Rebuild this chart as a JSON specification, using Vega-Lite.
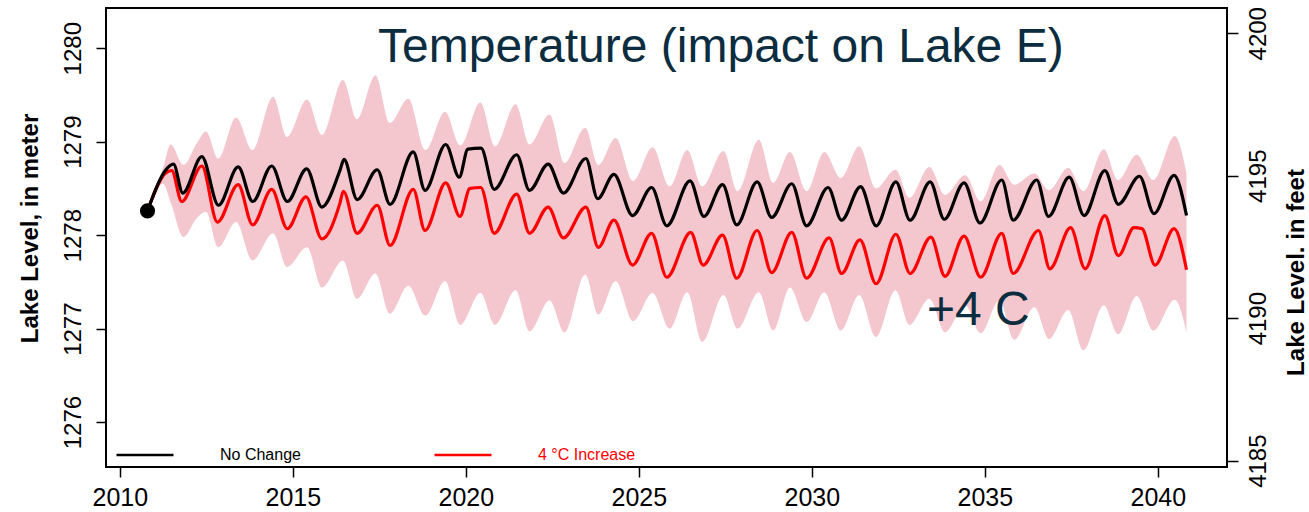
{
  "$schema": "https://vega.github.io/schema/vega-lite/v6.json",
  "width": 1121,
  "height": 459,
  "autosize": {"type": "none"},
  "padding": {"left": 106, "top": 8, "right": 82, "bottom": 45},
  "background": "white",
  "config": {
    "view": {"stroke": "black", "strokeWidth": 2},
    "font": "Liberation Sans",
    "axis": {"domain": false, "grid": false, "tickColor": "black", "tickWidth": 1.5, "labelColor": "black", "labelFontSize": 24, "labelFont": "Liberation Sans", "titleColor": "black", "titleFontSize": 24, "titleFontWeight": "bold", "titleFont": "Liberation Sans", "labelOverlap": false, "labelFlush": false}
  },
  "title": {"text": "Temperature (impact on Lake E)", "frame": "group", "anchor": "start", "orient": "top", "dx": 272, "offset": -103, "baseline": "alphabetic", "fontSize": 48, "fontWeight": "normal", "font": "Liberation Sans", "color": "#0c2c40"},
  "datasets": {
    "band": [
      {"year": 2010.80, "upper": 1278.26, "lower": 1278.26},
      {"year": 2011.25, "upper": 1278.72, "lower": 1278.55},
      {"year": 2011.47, "upper": 1278.97, "lower": 1278.35},
      {"year": 2011.84, "upper": 1278.75, "lower": 1277.98},
      {"year": 2012.22, "upper": 1278.98, "lower": 1278.18},
      {"year": 2012.49, "upper": 1279.11, "lower": 1278.25},
      {"year": 2012.84, "upper": 1278.82, "lower": 1277.87},
      {"year": 2013.36, "upper": 1279.26, "lower": 1278.14},
      {"year": 2013.83, "upper": 1278.91, "lower": 1277.73},
      {"year": 2014.43, "upper": 1279.48, "lower": 1278.02},
      {"year": 2014.83, "upper": 1279.05, "lower": 1277.66},
      {"year": 2015.41, "upper": 1279.45, "lower": 1277.87},
      {"year": 2015.84, "upper": 1279.07, "lower": 1277.44},
      {"year": 2016.45, "upper": 1279.66, "lower": 1277.73},
      {"year": 2016.85, "upper": 1279.24, "lower": 1277.32},
      {"year": 2017.39, "upper": 1279.71, "lower": 1277.59},
      {"year": 2017.80, "upper": 1279.20, "lower": 1277.16},
      {"year": 2018.34, "upper": 1279.46, "lower": 1277.46},
      {"year": 2018.83, "upper": 1278.91, "lower": 1277.14},
      {"year": 2019.40, "upper": 1279.32, "lower": 1277.51},
      {"year": 2019.84, "upper": 1278.96, "lower": 1277.04},
      {"year": 2020.42, "upper": 1279.42, "lower": 1277.38},
      {"year": 2020.84, "upper": 1278.95, "lower": 1277.04},
      {"year": 2021.44, "upper": 1279.40, "lower": 1277.41},
      {"year": 2021.84, "upper": 1278.97, "lower": 1276.97},
      {"year": 2022.42, "upper": 1279.29, "lower": 1277.30},
      {"year": 2022.85, "upper": 1278.77, "lower": 1276.96},
      {"year": 2023.45, "upper": 1279.15, "lower": 1277.58},
      {"year": 2023.83, "upper": 1278.75, "lower": 1277.15},
      {"year": 2024.33, "upper": 1279.04, "lower": 1277.51},
      {"year": 2024.83, "upper": 1278.58, "lower": 1277.08},
      {"year": 2025.40, "upper": 1278.94, "lower": 1277.38},
      {"year": 2025.89, "upper": 1278.52, "lower": 1277.00},
      {"year": 2026.40, "upper": 1278.91, "lower": 1277.39},
      {"year": 2026.83, "upper": 1278.52, "lower": 1276.86},
      {"year": 2027.45, "upper": 1278.90, "lower": 1277.36},
      {"year": 2027.85, "upper": 1278.47, "lower": 1277.00},
      {"year": 2028.47, "upper": 1279.02, "lower": 1277.39},
      {"year": 2028.88, "upper": 1278.56, "lower": 1276.98},
      {"year": 2029.37, "upper": 1278.89, "lower": 1277.44},
      {"year": 2029.85, "upper": 1278.47, "lower": 1277.07},
      {"year": 2030.36, "upper": 1278.89, "lower": 1277.39},
      {"year": 2030.84, "upper": 1278.61, "lower": 1276.98},
      {"year": 2031.37, "upper": 1278.95, "lower": 1277.36},
      {"year": 2031.85, "upper": 1278.50, "lower": 1276.91},
      {"year": 2032.42, "upper": 1278.70, "lower": 1277.41},
      {"year": 2032.82, "upper": 1278.40, "lower": 1277.04},
      {"year": 2033.40, "upper": 1278.73, "lower": 1277.32},
      {"year": 2033.85, "upper": 1278.43, "lower": 1276.96},
      {"year": 2034.43, "upper": 1278.64, "lower": 1277.25},
      {"year": 2034.88, "upper": 1278.36, "lower": 1276.95},
      {"year": 2035.42, "upper": 1278.75, "lower": 1277.30},
      {"year": 2035.85, "upper": 1278.54, "lower": 1276.88},
      {"year": 2036.43, "upper": 1278.66, "lower": 1277.23},
      {"year": 2036.86, "upper": 1278.48, "lower": 1276.89},
      {"year": 2037.41, "upper": 1278.72, "lower": 1277.20},
      {"year": 2037.85, "upper": 1278.47, "lower": 1276.77},
      {"year": 2038.44, "upper": 1278.92, "lower": 1277.25},
      {"year": 2038.85, "upper": 1278.59, "lower": 1276.94},
      {"year": 2039.39, "upper": 1278.86, "lower": 1277.35},
      {"year": 2039.87, "upper": 1278.59, "lower": 1276.98},
      {"year": 2040.49, "upper": 1279.06, "lower": 1277.31},
      {"year": 2040.83, "upper": 1278.66, "lower": 1276.96}
    ],
    "lines": [
      {"scenario": "4 °C Increase", "year": 2010.80, "level": 1278.26},
      {"scenario": "4 °C Increase", "year": 2011.31, "level": 1278.66},
      {"scenario": "4 °C Increase", "year": 2011.50, "level": 1278.69},
      {"scenario": "4 °C Increase", "year": 2011.79, "level": 1278.36},
      {"scenario": "4 °C Increase", "year": 2012.37, "level": 1278.74},
      {"scenario": "4 °C Increase", "year": 2012.82, "level": 1278.14},
      {"scenario": "4 °C Increase", "year": 2013.42, "level": 1278.54},
      {"scenario": "4 °C Increase", "year": 2013.84, "level": 1278.11},
      {"scenario": "4 °C Increase", "year": 2014.39, "level": 1278.49},
      {"scenario": "4 °C Increase", "year": 2014.84, "level": 1278.07},
      {"scenario": "4 °C Increase", "year": 2015.38, "level": 1278.41},
      {"scenario": "4 °C Increase", "year": 2015.84, "level": 1277.96},
      {"scenario": "4 °C Increase", "year": 2016.36, "level": 1278.34},
      {"scenario": "4 °C Increase", "year": 2016.46, "level": 1278.47},
      {"scenario": "4 °C Increase", "year": 2016.86, "level": 1278.02},
      {"scenario": "4 °C Increase", "year": 2017.44, "level": 1278.32},
      {"scenario": "4 °C Increase", "year": 2017.81, "level": 1277.89},
      {"scenario": "4 °C Increase", "year": 2018.48, "level": 1278.49},
      {"scenario": "4 °C Increase", "year": 2018.82, "level": 1278.05},
      {"scenario": "4 °C Increase", "year": 2019.42, "level": 1278.56},
      {"scenario": "4 °C Increase", "year": 2019.83, "level": 1278.20},
      {"scenario": "4 °C Increase", "year": 2020.12, "level": 1278.50},
      {"scenario": "4 °C Increase", "year": 2020.43, "level": 1278.51},
      {"scenario": "4 °C Increase", "year": 2020.82, "level": 1278.02},
      {"scenario": "4 °C Increase", "year": 2021.47, "level": 1278.44},
      {"scenario": "4 °C Increase", "year": 2021.84, "level": 1278.02},
      {"scenario": "4 °C Increase", "year": 2022.38, "level": 1278.30},
      {"scenario": "4 °C Increase", "year": 2022.82, "level": 1277.97},
      {"scenario": "4 °C Increase", "year": 2023.47, "level": 1278.30},
      {"scenario": "4 °C Increase", "year": 2023.83, "level": 1277.87},
      {"scenario": "4 °C Increase", "year": 2024.28, "level": 1278.16},
      {"scenario": "4 °C Increase", "year": 2024.82, "level": 1277.68},
      {"scenario": "4 °C Increase", "year": 2025.37, "level": 1278.02},
      {"scenario": "4 °C Increase", "year": 2025.81, "level": 1277.55},
      {"scenario": "4 °C Increase", "year": 2026.50, "level": 1278.03},
      {"scenario": "4 °C Increase", "year": 2026.86, "level": 1277.68},
      {"scenario": "4 °C Increase", "year": 2027.42, "level": 1278.00},
      {"scenario": "4 °C Increase", "year": 2027.83, "level": 1277.54},
      {"scenario": "4 °C Increase", "year": 2028.42, "level": 1278.05},
      {"scenario": "4 °C Increase", "year": 2028.84, "level": 1277.60},
      {"scenario": "4 °C Increase", "year": 2029.42, "level": 1278.03},
      {"scenario": "4 °C Increase", "year": 2029.85, "level": 1277.54},
      {"scenario": "4 °C Increase", "year": 2030.50, "level": 1277.97},
      {"scenario": "4 °C Increase", "year": 2030.86, "level": 1277.59},
      {"scenario": "4 °C Increase", "year": 2031.39, "level": 1277.95},
      {"scenario": "4 °C Increase", "year": 2031.86, "level": 1277.48},
      {"scenario": "4 °C Increase", "year": 2032.43, "level": 1278.01},
      {"scenario": "4 °C Increase", "year": 2032.84, "level": 1277.59},
      {"scenario": "4 °C Increase", "year": 2033.44, "level": 1277.98},
      {"scenario": "4 °C Increase", "year": 2033.85, "level": 1277.56},
      {"scenario": "4 °C Increase", "year": 2034.40, "level": 1277.99},
      {"scenario": "4 °C Increase", "year": 2034.88, "level": 1277.55},
      {"scenario": "4 °C Increase", "year": 2035.49, "level": 1278.02},
      {"scenario": "4 °C Increase", "year": 2035.82, "level": 1277.59},
      {"scenario": "4 °C Increase", "year": 2036.55, "level": 1278.05},
      {"scenario": "4 °C Increase", "year": 2036.88, "level": 1277.64},
      {"scenario": "4 °C Increase", "year": 2037.48, "level": 1278.08},
      {"scenario": "4 °C Increase", "year": 2037.90, "level": 1277.64},
      {"scenario": "4 °C Increase", "year": 2038.47, "level": 1278.21},
      {"scenario": "4 °C Increase", "year": 2038.86, "level": 1277.78},
      {"scenario": "4 °C Increase", "year": 2039.31, "level": 1278.08},
      {"scenario": "4 °C Increase", "year": 2039.54, "level": 1278.07},
      {"scenario": "4 °C Increase", "year": 2039.92, "level": 1277.68},
      {"scenario": "4 °C Increase", "year": 2040.47, "level": 1278.07},
      {"scenario": "4 °C Increase", "year": 2040.83, "level": 1277.63},
      {"scenario": "No Change", "year": 2010.80, "level": 1278.26},
      {"scenario": "No Change", "year": 2011.31, "level": 1278.69},
      {"scenario": "No Change", "year": 2011.55, "level": 1278.76},
      {"scenario": "No Change", "year": 2011.82, "level": 1278.45},
      {"scenario": "No Change", "year": 2012.37, "level": 1278.84},
      {"scenario": "No Change", "year": 2012.85, "level": 1278.32},
      {"scenario": "No Change", "year": 2013.42, "level": 1278.73},
      {"scenario": "No Change", "year": 2013.84, "level": 1278.36},
      {"scenario": "No Change", "year": 2014.39, "level": 1278.74},
      {"scenario": "No Change", "year": 2014.84, "level": 1278.36},
      {"scenario": "No Change", "year": 2015.40, "level": 1278.71},
      {"scenario": "No Change", "year": 2015.84, "level": 1278.30},
      {"scenario": "No Change", "year": 2016.36, "level": 1278.69},
      {"scenario": "No Change", "year": 2016.48, "level": 1278.81},
      {"scenario": "No Change", "year": 2016.86, "level": 1278.38},
      {"scenario": "No Change", "year": 2017.44, "level": 1278.70},
      {"scenario": "No Change", "year": 2017.81, "level": 1278.33},
      {"scenario": "No Change", "year": 2018.48, "level": 1278.89},
      {"scenario": "No Change", "year": 2018.82, "level": 1278.48},
      {"scenario": "No Change", "year": 2019.42, "level": 1278.97},
      {"scenario": "No Change", "year": 2019.81, "level": 1278.62},
      {"scenario": "No Change", "year": 2020.06, "level": 1278.92},
      {"scenario": "No Change", "year": 2020.44, "level": 1278.93},
      {"scenario": "No Change", "year": 2020.82, "level": 1278.49},
      {"scenario": "No Change", "year": 2021.47, "level": 1278.86},
      {"scenario": "No Change", "year": 2021.84, "level": 1278.48},
      {"scenario": "No Change", "year": 2022.38, "level": 1278.76},
      {"scenario": "No Change", "year": 2022.82, "level": 1278.45},
      {"scenario": "No Change", "year": 2023.47, "level": 1278.82},
      {"scenario": "No Change", "year": 2023.81, "level": 1278.39},
      {"scenario": "No Change", "year": 2024.28, "level": 1278.65},
      {"scenario": "No Change", "year": 2024.82, "level": 1278.21},
      {"scenario": "No Change", "year": 2025.37, "level": 1278.51},
      {"scenario": "No Change", "year": 2025.81, "level": 1278.10},
      {"scenario": "No Change", "year": 2026.48, "level": 1278.58},
      {"scenario": "No Change", "year": 2026.88, "level": 1278.20},
      {"scenario": "No Change", "year": 2027.42, "level": 1278.54},
      {"scenario": "No Change", "year": 2027.83, "level": 1278.11},
      {"scenario": "No Change", "year": 2028.42, "level": 1278.57},
      {"scenario": "No Change", "year": 2028.84, "level": 1278.19},
      {"scenario": "No Change", "year": 2029.42, "level": 1278.55},
      {"scenario": "No Change", "year": 2029.85, "level": 1278.10},
      {"scenario": "No Change", "year": 2030.47, "level": 1278.51},
      {"scenario": "No Change", "year": 2030.86, "level": 1278.16},
      {"scenario": "No Change", "year": 2031.41, "level": 1278.52},
      {"scenario": "No Change", "year": 2031.86, "level": 1278.10},
      {"scenario": "No Change", "year": 2032.43, "level": 1278.57},
      {"scenario": "No Change", "year": 2032.84, "level": 1278.16},
      {"scenario": "No Change", "year": 2033.42, "level": 1278.57},
      {"scenario": "No Change", "year": 2033.83, "level": 1278.17},
      {"scenario": "No Change", "year": 2034.40, "level": 1278.56},
      {"scenario": "No Change", "year": 2034.86, "level": 1278.13},
      {"scenario": "No Change", "year": 2035.49, "level": 1278.59},
      {"scenario": "No Change", "year": 2035.82, "level": 1278.16},
      {"scenario": "No Change", "year": 2036.50, "level": 1278.59},
      {"scenario": "No Change", "year": 2036.84, "level": 1278.20},
      {"scenario": "No Change", "year": 2037.44, "level": 1278.62},
      {"scenario": "No Change", "year": 2037.87, "level": 1278.21},
      {"scenario": "No Change", "year": 2038.47, "level": 1278.69},
      {"scenario": "No Change", "year": 2038.86, "level": 1278.33},
      {"scenario": "No Change", "year": 2039.47, "level": 1278.63},
      {"scenario": "No Change", "year": 2039.89, "level": 1278.23},
      {"scenario": "No Change", "year": 2040.47, "level": 1278.64},
      {"scenario": "No Change", "year": 2040.83, "level": 1278.21}
    ],
    "start": [{"year": 2010.80, "level": 1278.26}],
    "notes": [{"label": "+4 C"}]
  },
  "layer": [
    {
      "data": {"name": "band"},
      "mark": {"type": "area", "interpolate": "monotone", "color": "#f4c7cf", "opacity": 1},
      "encoding": {
        "x": {"field": "year", "type": "quantitative", "scale": {"domain": [2009.6, 2042.0], "nice": false, "zero": false},
          "axis": {"values": [2010, 2015, 2020, 2025, 2030, 2035, 2040], "format": "d", "title": null, "tickSize": 10, "labelPadding": 8, "labelFontSize": 25}},
        "y": {"field": "upper", "type": "quantitative", "scale": {"domain": [1275.52, 1280.43], "nice": false, "zero": false},
          "axis": {"orient": "left", "values": [1276, 1277, 1278, 1279, 1280], "format": "d", "title": "Lake Level, in meter", "labelAngle": -90, "labelAlign": "center", "labelBaseline": "bottom", "tickSize": 10, "labelPadding": 11, "titleAngle": -90, "titleX": -76, "titleY": 220, "titleAlign": "center", "titleBaseline": "middle"}},
        "y2": {"field": "lower"}
      }
    },
    {
      "data": {"name": "lines"},
      "mark": {"type": "line", "interpolate": "monotone", "strokeWidth": 3.2},
      "encoding": {
        "x": {"field": "year", "type": "quantitative"},
        "y": {"field": "level", "type": "quantitative",
          "axis": {"orient": "right", "values": [1275.588, 1277.112, 1278.636, 1280.16], "labelExpr": "format(datum.value * 3.28084, '.0f')", "title": "Lake Level. in feet", "labelAngle": -90, "labelAlign": "center", "labelBaseline": "top", "tickSize": 11, "labelPadding": 8, "titleAngle": -90, "titleX": 69, "titleY": 264, "titleAlign": "center", "titleBaseline": "middle"}},
        "color": {"field": "scenario", "type": "nominal",
          "scale": {"domain": ["No Change", "4 °C Increase"], "range": ["#000000", "#ff0000"]},
          "legend": {"orient": "none", "legendX": 9, "legendY": 417, "direction": "horizontal", "title": null, "symbolType": "stroke", "symbolSize": 3249, "symbolStrokeWidth": 2.5, "labelFontSize": 16, "labelFont": "Liberation Sans", "labelOffset": 45, "columnPadding": 128, "padding": 0, "labelLimit": 300,
            "encode": {"labels": {"update": {"fill": {"signal": "datum.value == '4 °C Increase' ? '#ff0000' : '#000000'"}}}}}}
      }
    },
    {
      "data": {"name": "start"},
      "mark": {"type": "point", "filled": true, "color": "#000000", "size": 230, "opacity": 1},
      "encoding": {
        "x": {"field": "year", "type": "quantitative"},
        "y": {"field": "level", "type": "quantitative", "axis": null}
      }
    },
    {
      "data": {"name": "notes"},
      "mark": {"type": "text", "fontSize": 48, "font": "Liberation Sans", "color": "#0c2c40", "align": "left", "baseline": "alphabetic"},
      "encoding": {
        "x": {"datum": 2033.33, "type": "quantitative"},
        "y": {"datum": 1277.04, "type": "quantitative", "axis": null},
        "text": {"field": "label", "type": "nominal"}
      }
    }
  ],
  "resolve": {"axis": {"y": "independent"}}
}
